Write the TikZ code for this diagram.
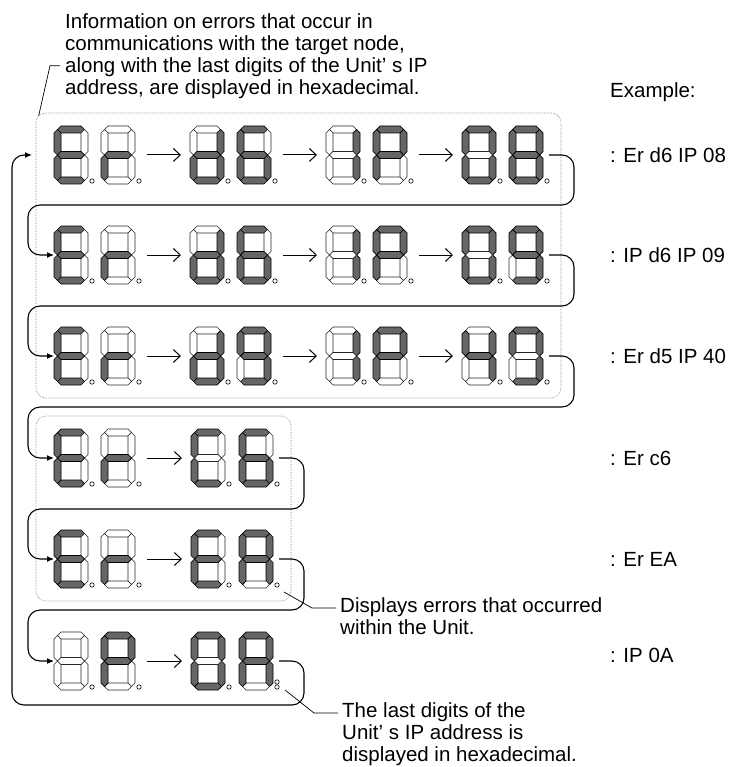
\documentclass[tikz,border=0pt]{standalone}
\usepackage{fontspec}
\setmainfont{Liberation Sans}
\usepackage{tikz}
\usetikzlibrary{arrows.meta, positioning, fit, calc}
\definecolor{segdark}{RGB}{102,102,102}
\definecolor{boxgray}{RGB}{125,125,125}

% one seven-segment digit: name, top-left corner, lit segments
\makeatletter
\newcommand{\segdigit}[3]{%
  \begin{scope}[shift={#2}]
    \foreach \sg/\kd/\xa/\ya/\xb/\yb in {a/h/3.5/3.5/30.5/3.5, b/v/30.5/3.5/30.5/29, c/v/30.5/29/30.5/54.5,
        d/h/3.5/54.5/30.5/54.5, e/v/3.5/29/3.5/54.5, f/v/3.5/3.5/3.5/29, g/h/3.5/29/30.5/29}{%
      \edef\segtest{\noexpand\in@{\sg}{#3}}\segtest
      \ifin@\tikzset{segnow/.style={segon}}\else\tikzset{segnow/.style={segoff}}\fi
      \if h\kd
        \draw[segnow] (\xa,\ya) -- ({\xa+3.5},{\ya-3.5}) -- ({\xb-3.5},{\yb-3.5}) -- (\xb,\yb)
          -- ({\xb-3.5},{\yb+3.5}) -- ({\xa+3.5},{\ya+3.5}) -- cycle;
      \else
        \draw[segnow] (\xa,\ya) -- ({\xa+3.5},{\ya+3.5}) -- ({\xb+3.5},{\yb-3.5}) -- (\xb,\yb)
          -- ({\xb-3.5},{\yb-3.5}) -- ({\xa-3.5},{\ya+3.5}) -- cycle;
      \fi
    }
    \draw[segpoint] (38,55) circle (2.2pt);
    \node[digitbox] (#1) at (17,29) {};
  \end{scope}}
\makeatother

\begin{document}
\begin{tikzpicture}[
    x=1pt, y=-1pt,
    segon/.style={fill=segdark, draw=black, line width=0.7pt},
    segoff/.style={fill=white, draw=black!85, line width=0.6pt},
    segpoint/.style={draw=black, fill=white, line width=0.6pt},
    digitbox/.style={inner sep=0pt, outer sep=0pt, minimum width=34pt, minimum height=58pt},
    groupbox/.style={draw=boxgray, densely dotted, line width=0.6pt, rounded corners=10pt,
                     inner xsep=18pt, inner ysep=13pt},
    flow/.style={-{Latex[length=7pt,width=6pt]}, line width=1.1pt, rounded corners=12pt},
    pairarrow/.style={-{Straight Barb[length=7pt,width=13pt]}, line width=1pt},
    leader/.style={line width=0.7pt},
    note/.style={font=\fontsize{20.5}{22}\selectfont, align=left, inner sep=0pt},
]
    \useasboundingbox (0,0) rectangle (731,767);

    % Row 1
    \segdigit{r1d1}{(54,126)}{adefg}
    \segdigit{r1d2}{(101,126)}{eg}
    \segdigit{r1d3}{(190,126)}{bcdeg}
    \segdigit{r1d4}{(237,126)}{acdefg}
    \segdigit{r1d5}{(326,126)}{bc}
    \segdigit{r1d6}{(373,126)}{abefg}
    \segdigit{r1d7}{(462,126)}{abcdef}
    \segdigit{r1d8}{(509,126)}{abcdefg}
    % Row 2
    \segdigit{r2d1}{(54,226)}{adefg}
    \segdigit{r2d2}{(101,226)}{eg}
    \segdigit{r2d3}{(190,226)}{bcdeg}
    \segdigit{r2d4}{(237,226)}{acdefg}
    \segdigit{r2d5}{(326,226)}{bc}
    \segdigit{r2d6}{(373,226)}{abefg}
    \segdigit{r2d7}{(462,226)}{abcdef}
    \segdigit{r2d8}{(509,226)}{abcdfg}
    % Row 3
    \segdigit{r3d1}{(54,327)}{adefg}
    \segdigit{r3d2}{(101,327)}{eg}
    \segdigit{r3d3}{(190,327)}{bcdeg}
    \segdigit{r3d4}{(237,327)}{abcdfg}
    \segdigit{r3d5}{(326,327)}{bc}
    \segdigit{r3d6}{(373,327)}{abefg}
    \segdigit{r3d7}{(462,327)}{bcfg}
    \segdigit{r3d8}{(509,327)}{abcdf}
    % Row 4
    \segdigit{r4d1}{(54,429)}{adefg}
    \segdigit{r4d2}{(101,429)}{eg}
    \segdigit{r4d3}{(191,429)}{adef}
    \segdigit{r4d4}{(239,429)}{acdefg}
    % Row 5
    \segdigit{r5d1}{(54,530)}{adefg}
    \segdigit{r5d2}{(101,530)}{eg}
    \segdigit{r5d3}{(191,530)}{adefg}
    \segdigit{r5d4}{(239,530)}{abcefg}
    % Row 6
    \segdigit{r6d1}{(54,632)}{}
    \segdigit{r6d2}{(101,632)}{abefg}
    \segdigit{r6d3}{(191,632)}{abcdef}
    \segdigit{r6d4}{(239,632)}{abcefg}
    \draw[segpoint] ([shift={(4pt,8pt)}]r6d4.south east) circle (2.2pt);

    % Groups
    \node[groupbox, fit=(r1d1)(r3d8)] (errbox) {};
    \node[groupbox, fit=(r4d1)(r5d4)] (unitbox) {};

    % Arrows inside rows
    \foreach \r in {1,2,3}{
        \draw[pairarrow] ([xshift=12pt]r\r d2.east) -- ([xshift=-9pt]r\r d3.west);
        \draw[pairarrow] ([xshift=12pt]r\r d4.east) -- ([xshift=-9pt]r\r d5.west);
        \draw[pairarrow] ([xshift=12pt]r\r d6.east) -- ([xshift=-9pt]r\r d7.west);
    }
    \foreach \r in {4,5,6}{
        \draw[pairarrow] ([xshift=12pt]r\r d2.east) -- ([xshift=-9pt]r\r d3.west);
    }

    % Row to row
    \coordinate (turn12) at (574,205);  \coordinate (back12) at (28,205);
    \coordinate (turn23) at (574,306);  \coordinate (back23) at (28,306);
    \coordinate (turn34) at (574,407);  \coordinate (back34) at (28,407);
    \coordinate (turn45) at (304,509);  \coordinate (back45) at (28,509);
    \coordinate (turn56) at (304,610);  \coordinate (back56) at (28,610);
    \coordinate (turn61) at (304,705);  \coordinate (back61) at (12,705);
    \draw[flow] ([xshift=6pt]r1d8.east) -| (turn12) -- (back12) |- (r2d1.west);
    \draw[flow] ([xshift=6pt]r2d8.east) -| (turn23) -- (back23) |- (r3d1.west);
    \draw[flow] ([xshift=6pt]r3d8.east) -| (turn34) -- (back34) |- (r4d1.west);
    \draw[flow] ([xshift=6pt]r4d4.east) -| (turn45) -- (back45) |- (r5d1.west);
    \draw[flow] ([xshift=6pt]r5d4.east) -| (turn56) -- (back56) |- (r6d1.west);
    \draw[flow] ([xshift=6pt]r6d4.east) -| (turn61) -- (back61) |- ([xshift=-22pt]r1d1.west);

    % Texts
    \node[note, anchor=north west] (infotext) at (65,13)
        {Information on errors that occur in\\communications with the target node,\\along with the last digits of the Unit’ s IP\\address, are displayed in hexadecimal.};
    \node[note, anchor=west] (example) at (610,92) {Example:};
    \node[note, anchor=west] (lab1) at (example.west |- r1d8) {: Er d6 IP 08};
    \node[note, anchor=west] (lab2) at (example.west |- r2d8) {: IP d6 IP 09};
    \node[note, anchor=west] (lab3) at (example.west |- r3d8) {: Er d5 IP 40};
    \node[note, anchor=west] (lab4) at (example.west |- r4d4) {: Er c6};
    \node[note, anchor=west] (lab5) at (example.west |- r5d4) {: Er EA};
    \node[note, anchor=west] (lab6) at ([yshift=6pt]example.west |- r6d4) {: IP 0A};
    \node[note, anchor=north west] (unitnote) at (340,597)
        {Displays errors that occurred\\within the Unit.};
    \node[note, anchor=north west] (ipnote) at (342,702)
        {The last digits of the\\Unit’ s IP address is\\displayed in hexadecimal.};

    % Leaders
    \coordinate (unitpin) at (284,592);
    \coordinate (ippin) at (285,690);
    \draw[leader] ([shift={(-5pt,-10pt)}]infotext.west) -- ++(-10,0) -- ([shift={(3pt,-3pt)}]errbox.north west);
    \draw[leader] ([shift={(-4pt,-11pt)}]unitnote.north west) -- ++(-24,0) -- (unitpin);
    \draw[leader] ([shift={(-4pt,-11pt)}]ipnote.north west) -- ++(-24,0) -- (ippin);
\end{tikzpicture}
\end{document}
